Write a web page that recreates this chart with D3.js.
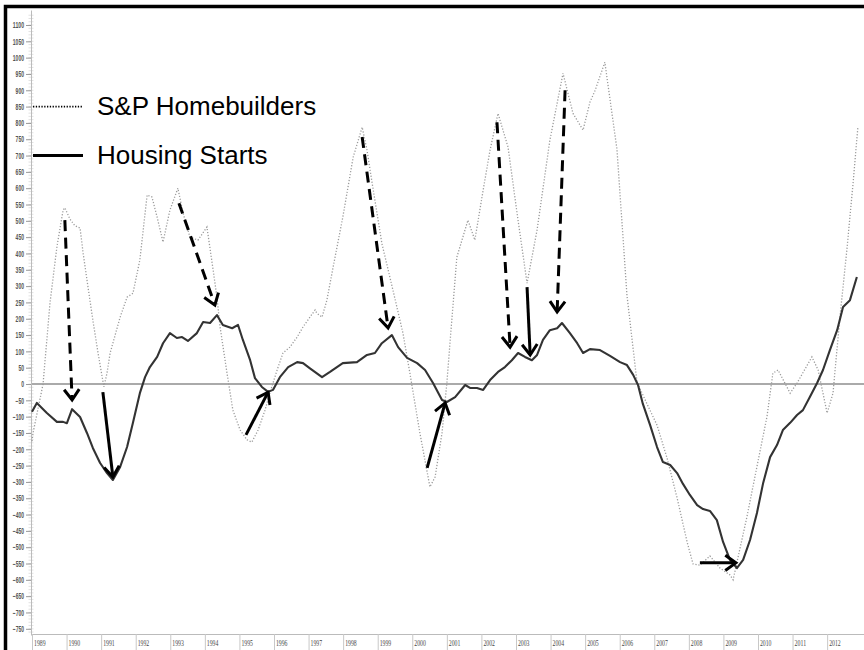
<!DOCTYPE html>
<html><head><meta charset="utf-8">
<script src="https://cdn.jsdelivr.net/npm/d3@7"></script>
<style>body{margin:0;background:#fff}svg{display:block}</style>
</head><body><svg id="c" width="864" height="650"></svg>
<script>
// ---- data ----
const spYears = [1989.00,1989.03,1989.32,1989.52,1989.72,1989.90,1989.95,1990.10,1990.24,1990.39,1990.48,1990.62,1990.76,1990.91,1991.08,1991.17,1991.26,1991.55,1991.75,1991.92,1992.12,1992.33,1992.47,1992.62,1992.79,1992.99,1993.22,1993.37,1993.57,1993.80,1994.06,1994.24,1994.35,1994.44,1994.64,1994.81,1995.02,1995.22,1995.36,1995.54,1995.74,1995.88,1996.09,1996.26,1996.46,1996.67,1996.84,1997.04,1997.19,1997.24,1997.39,1997.53,1997.71,1997.99,1998.29,1998.55,1998.69,1998.84,1999.12,1999.44,1999.73,1999.93,2000.22,2000.51,2000.66,2000.86,2001.00,2001.15,2001.29,2001.61,2001.81,2002.05,2002.25,2002.48,2002.77,2003.03,2003.32,2003.61,2003.98,2004.36,2004.65,2004.94,2005.14,2005.29,2005.57,2005.92,2006.21,2006.50,2006.79,2007.08,2007.37,2007.66,2007.95,2008.12,2008.32,2008.61,2008.90,2009.19,2009.28,2009.68,2009.97,2010.26,2010.43,2010.58,2010.93,2011.13,2011.56,2011.74,2012.00,2012.17,2012.37,2012.57,2012.75,2012.89];
const spValues = [-175,-150,0,248,420,533,540,505,485,478,400,297,196,95,-9,34,95,205,266,278,380,579,573,511,435,533,600,524,450,441,481,349,266,175,34,-80,-141,-171,-178,-141,-80,-28,43,95,113,144,175,205,227,217,205,257,358,511,695,787,717,615,431,288,156,34,-150,-315,-285,-150,3,205,389,502,441,594,717,829,726,524,309,472,747,952,829,778,864,900,986,720,272,6,-61,-126,-227,-349,-484,-551,-555,-527,-564,-585,-600,-407,-253,-100,33,43,-28,3,83,43,-89,-28,205,410,615,787];

const hsYears = [1989.00,1989.14,1989.43,1989.72,1989.90,1990.01,1990.16,1990.39,1990.59,1990.76,1990.97,1991.17,1991.34,1991.55,1991.75,1991.92,1992.12,1992.27,1992.41,1992.62,1992.79,1992.99,1993.19,1993.34,1993.51,1993.77,1993.95,1994.15,1994.35,1994.52,1994.79,1994.96,1995.10,1995.31,1995.45,1995.65,1995.83,1995.97,1996.17,1996.41,1996.67,1996.84,1997.04,1997.39,1997.62,1997.99,1998.40,1998.69,1998.92,1999.12,1999.41,1999.59,1999.85,2000.14,2000.37,2000.60,2000.86,2001.00,2001.24,2001.53,2001.67,2001.87,2002.05,2002.25,2002.48,2002.68,2002.88,2003.06,2003.26,2003.46,2003.61,2003.78,2003.98,2004.19,2004.33,2004.56,2004.77,2004.94,2005.14,2005.43,2005.72,2006.01,2006.21,2006.39,2006.53,2006.67,2006.88,2007.08,2007.25,2007.46,2007.66,2007.83,2008.03,2008.24,2008.41,2008.61,2008.81,2008.99,2009.19,2009.39,2009.57,2009.77,2009.97,2010.15,2010.35,2010.55,2010.72,2010.93,2011.13,2011.30,2011.50,2011.71,2011.88,2012.08,2012.29,2012.46,2012.66,2012.86];
const hsValues = [-85,-58,-89,-116,-116,-120,-77,-101,-150,-196,-242,-273,-294,-254,-193,-119,-28,21,52,83,125,156,141,144,132,156,190,187,211,181,171,181,135,73,18,-9,-24,-18,21,52,67,64,48,21,37,64,67,89,95,125,150,113,80,64,43,3,-49,-55,-40,-3,-12,-12,-18,12,37,52,73,95,83,73,89,135,165,171,187,156,125,95,107,104,86,67,58,28,-3,-61,-126,-193,-239,-248,-273,-306,-340,-371,-383,-389,-417,-484,-539,-564,-539,-478,-395,-303,-224,-187,-141,-119,-95,-80,-40,3,43,104,165,236,257,328];

const yearTicks = d3.range(1989, 2013);
const valueTicks = d3.range(-750, 1101, 50);
const legendLabels = ["S&P Homebuilders", "Housing Starts"];
const legendValues = [850, 700];
// arrows: [fromYear, fromValue, toYear, toValue]
const dashedArrows = [[1989.95,502,1990.16,-49],[1993.25,554,1994.29,242],[1998.55,757,1999.30,172],[2002.45,802,2002.83,113],[2004.42,900,2004.19,221]];
const solidArrows = [[1991.05,-25,1991.34,-285],[1995.19,-156,1995.83,-25],[2000.43,-257,2000.95,-58],[2003.32,297,2003.41,89],[2008.32,-548,2009.36,-548]];

// ---- chart ----
const svg = d3.select("#c");
const x = d3.scaleLinear().domain([1989, 2013]).range([32, 861.7]);
const y = d3.scaleLinear().domain([-769, 1146]).range([635, 10]);

// minor ticks on y axis
svg.append("g").selectAll("line").data(d3.range(-760, 1131, 10)).join("line")
  .attr("x1",28.5).attr("x2",33.5).attr("y1",d=>y(d)).attr("y2",d=>y(d))
  .attr("stroke","#cfcfcf").attr("stroke-width",0.6);

// y axis
const ya = svg.append("g").attr("transform","translate(31,0)")
  .call(d3.axisLeft(y).tickValues(valueTicks).tickFormat(d3.format("d")).tickSize(5).tickPadding(2).tickSizeOuter(0));
ya.select(".domain").attr("stroke","#bbb");
ya.selectAll(".tick line").attr("stroke","#999");
ya.selectAll(".tick text").attr("font-family","'Liberation Sans',Arial,sans-serif")
  .attr("font-weight","bold").attr("font-size",8.5).attr("fill","#555")
  .attr("textLength",d=>String(d).length*2.8).attr("lengthAdjust","spacingAndGlyphs");

// x axis
const xa = svg.append("g").attr("transform","translate(0,634)")
  .call(d3.axisBottom(x).tickValues(yearTicks).tickFormat(d3.format("d")).tickSize(16).tickSizeOuter(0));
xa.select(".domain").attr("stroke","#bbb").attr("d","M31,0.5H864");
xa.selectAll(".tick line").attr("stroke","#c8c8c8");
xa.selectAll(".tick text").attr("text-anchor","start").attr("x",1.5).attr("y",11.5).attr("dy",0)
  .attr("font-family","'Liberation Serif','Times New Roman',serif").attr("font-size",8).attr("fill","#444")
  .attr("textLength",11.5).attr("lengthAdjust","spacingAndGlyphs");

// frame
svg.append("path").attr("d","M5.5,650V6.5H864").attr("fill","none").attr("stroke","#000").attr("stroke-width",3.5);

// zero line
svg.append("line").attr("x1",32).attr("x2",864).attr("y1",y(0)).attr("y2",y(0))
  .attr("stroke","#aaa").attr("stroke-width",2);

// series
const sp = spYears.map((t,i)=>[t, spValues[i]]);
const hs = hsYears.map((t,i)=>[t, hsValues[i]]);
const line = d3.line().x(d=>x(d[0])).y(d=>y(d[1]));
svg.append("path").attr("d",line(sp)).attr("fill","none").attr("stroke","#9a9a9a")
  .attr("stroke-width",1.3).attr("stroke-dasharray","1.2,1.8");
svg.append("path").attr("d",line(hs)).attr("fill","none").attr("stroke","#333")
  .attr("stroke-width",2.1).attr("stroke-linejoin","round");

// legend
const lg = svg.append("g");
lg.append("line").attr("x1",33).attr("x2",83).attr("y1",y(legendValues[0])).attr("y2",y(legendValues[0]))
  .attr("stroke","#000").attr("stroke-width",1.6).attr("stroke-dasharray","1.3,1.5");
lg.append("line").attr("x1",33).attr("x2",83).attr("y1",y(legendValues[1])).attr("y2",y(legendValues[1]))
  .attr("stroke","#000").attr("stroke-width",3);
lg.selectAll("text").data(legendLabels).join("text")
  .attr("x",97).attr("y",(d,i)=>y(legendValues[i])+8.5)
  .attr("font-family","'Liberation Sans',Arial,sans-serif").attr("font-size",26).attr("fill","#000")
  .text(d=>d);

// arrows
function drawArrow(g, a, dashed){
  const x0=x(a[0]), y0=y(a[1]), x1=x(a[2]), y1=y(a[3]);
  const ang=Math.atan2(y1-y0, x1-x0), L=13, sp=0.62;
  g.append("line").attr("x1",x0).attr("y1",y0).attr("x2",x1).attr("y2",y1)
    .attr("stroke","#000").attr("stroke-width",3)
    .attr("stroke-dasharray", dashed ? "11,6.5" : null);
  const p = [[x1 - L*Math.cos(ang-sp), y1 - L*Math.sin(ang-sp)],[x1,y1],[x1 - L*Math.cos(ang+sp), y1 - L*Math.sin(ang+sp)]];
  g.append("path").attr("d", d3.line()(p)).attr("fill","none").attr("stroke","#000")
    .attr("stroke-width",3).attr("stroke-linejoin","miter");
}
const ag = svg.append("g");
dashedArrows.forEach(a=>drawArrow(ag,a,true));
solidArrows.forEach(a=>drawArrow(ag,a,false));
</script></body></html>
